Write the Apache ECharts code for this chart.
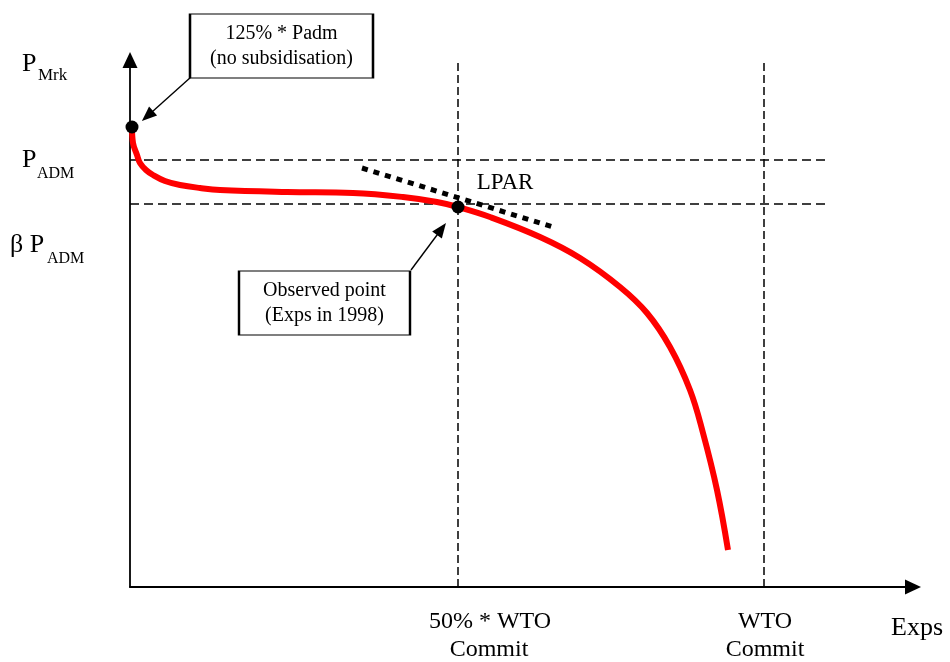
<!DOCTYPE html>
<html>
<head>
<meta charset="utf-8">
<script src="https://cdn.jsdelivr.net/npm/echarts@6/dist/echarts.min.js"></script>
<style>
  html, body { margin: 0; padding: 0; background: #fff; }
  #chart { width: 950px; height: 662px; }
</style>
</head>
<body>
<div id="chart"></div>
<script>
// Data units: horizontal = exports (Exps), vertical = market price (PMrk)
const curveX = [2, 3, 7, 10, 16, 23, 35, 50, 70, 90, 157, 223, 273, 307, 328, 360, 410, 450, 490, 517, 540, 560, 573, 587, 598];
const curveY = [460, 444, 432, 424, 417, 412, 406, 402, 399, 397, 395, 394, 390, 385, 380, 370, 350, 329, 300, 274, 240, 197, 154, 97, 37];

const priceLevels = [427, 383];          // P_ADM, beta*P_ADM
const priceLevelEnd = 696;               // right end of the horizontal guides
const exportLevels = [328, 634];         // 50% * WTO commit, WTO commit
const exportLevelTop = 525;              // top of the vertical guides

const pointsX = [2, 328];                // 125% * Padm point, observed point
const pointsY = [460, 380];

const tangentX = [232, 423];             // LPAR tangent
const tangentY = [419, 360];

const xMax = 783, yMax = 527;

// text: [text, x, y, fontSize, align]
const textLabels = [
  ['P', -108, 523, 26, 'left'],
  ['Mrk', -92, 511, 17, 'left'],
  ['P', -108, 427, 26, 'left'],
  ['ADM', -93, 413, 16, 'left'],
  ['β P', -120, 342, 26, 'left'],
  ['ADM', -83, 328, 16, 'left'],
  ['50% * WTO', 360, -35, 24, 'center'],
  ['Commit', 359, -63, 24, 'center'],
  ['WTO', 635, -35, 24, 'center'],
  ['Commit', 635, -63, 24, 'center'],
  ['Exps', 787, -41, 26, 'center'],
  ['LPAR', 375, 404, 23, 'center']
];

// boxes: [text, centerX, centerY, width, height]
const boxes = [
  ['125% * Padm\n(no subsidisation)', 151.5, 541, 183, 64],
  ['Observed point\n(Exps in 1998)', 194.5, 284, 171, 64]
];

// arrows: [fromX, fromY, headX, headY]
const arrows = [
  [61, 510, 17.5, 471],
  [281, 317, 311.5, 358]
];

const FONT = "'Liberation Serif', 'Times New Roman', serif";

function seg(xs, ys) { return xs.map((x, i) => [x, ys[i]]); }

const series = [];

// horizontal guides
priceLevels.forEach(v => series.push({
  type: 'line', data: [[0, v], [priceLevelEnd, v]], symbol: 'none', silent: true, clip: false, z: 2,
  lineStyle: { color: '#000', width: 1.5, type: [9, 5], opacity: 1 }
}));
// vertical guides
exportLevels.forEach(v => series.push({
  type: 'line', data: [[v, 0], [v, exportLevelTop]], symbol: 'none', silent: true, clip: false, z: 2,
  lineStyle: { color: '#000', width: 1.5, type: [8, 4], opacity: 1 }
}));
// curve
series.push({
  type: 'line', data: seg(curveX, curveY), symbol: 'none', smooth: 0.4, silent: true, clip: false, z: 3,
  lineStyle: { color: '#ff0000', width: 6, opacity: 1 }
});
// tangent
series.push({
  type: 'line', data: seg(tangentX, tangentY), symbol: 'none', silent: true, clip: false, z: 4,
  lineStyle: { color: '#000', width: 5, type: [6, 6], cap: 'butt', opacity: 1 }
});
// arrows
series.push({
  type: 'line', data: [], symbol: 'none', silent: true, clip: false, z: 5,
  markLine: {
    silent: true, symbol: ['none', 'triangle'], symbolSize: [12, 15], animation: false,
    label: { show: false },
    lineStyle: { color: '#000', width: 1.4, type: 'solid', opacity: 1 },
    data: arrows.map(a => [{ coord: [a[0], a[1]] }, { coord: [a[2], a[3]] }])
  }
});
// points
series.push({
  type: 'scatter', data: seg(pointsX, pointsY), symbolSize: 13, silent: true, clip: false, z: 6,
  itemStyle: { color: '#000', opacity: 1 }
});
// boxes
series.push({
  type: 'scatter', silent: true, clip: false, z: 7, symbol: 'rect',
  data: boxes.map(b => ({
    value: [b[1], b[2]], symbolSize: [b[3], b[4]],
    label: { show: true, position: 'inside', formatter: b[0], fontFamily: FONT, fontSize: 20, lineHeight: 25, color: '#000' }
  })),
  itemStyle: { color: '#fff', borderColor: '#000', borderWidth: 1.5, opacity: 1 }
});
// text labels
series.push({
  type: 'scatter', silent: true, clip: false, z: 8, symbolSize: 0,
  itemStyle: { opacity: 1 },
  data: textLabels.map(t => ({
    value: [t[1], t[2]],
    label: { show: true, position: [0, 0], formatter: t[0], fontFamily: FONT, fontSize: t[3], align: t[4], verticalAlign: 'middle', color: '#000' }
  }))
});

const chart = echarts.init(document.getElementById('chart'), null, { renderer: 'canvas' });
chart.setOption({
  animation: false,
  backgroundColor: '#fff',
  grid: { left: 130, right: 37, top: 60, bottom: 75, containLabel: false },
  xAxis: {
    type: 'value', min: 0, max: xMax,
    axisLine: { show: true, onZero: false, symbol: ['none', 'triangle'], symbolSize: [15, 16], lineStyle: { color: '#000', width: 1.8 } },
    axisTick: { show: false }, axisLabel: { show: false }, splitLine: { show: false }
  },
  yAxis: {
    type: 'value', min: 0, max: yMax,
    axisLine: { show: true, onZero: false, symbol: ['none', 'triangle'], symbolSize: [15, 16], lineStyle: { color: '#000', width: 1.8 } },
    axisTick: { show: false }, axisLabel: { show: false }, splitLine: { show: false }
  },
  series: series
});
</script>
</body>
</html>
